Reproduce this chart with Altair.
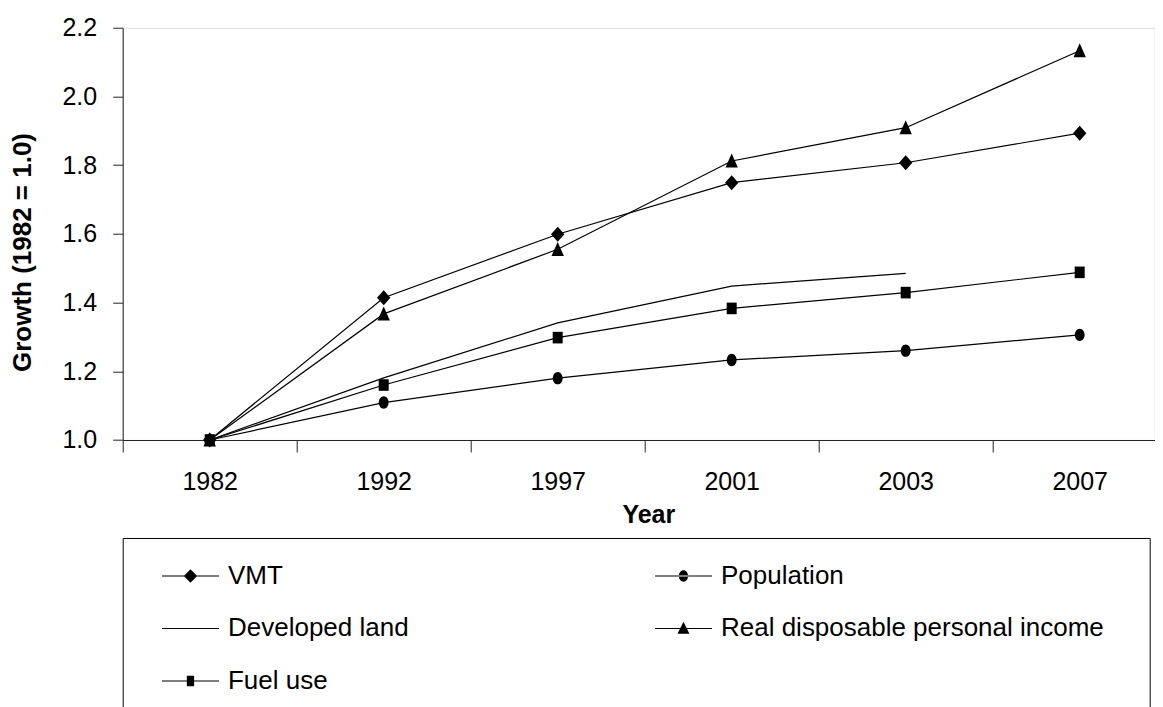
import altair as alt
import pandas as pd

# ---- data ----
years = ["1982", "1992", "1997", "2001", "2003", "2007"]
series_names = ["VMT", "Population", "Developed land",
                "Real disposable personal income", "Fuel use"]
vmt = [1.0, 1.414, 1.599, 1.749, 1.807, 1.893]
population = [1.0, 1.109, 1.180, 1.233, 1.260, 1.306]
developed_land = [1.0, 1.181, 1.341, 1.448, 1.485, None]
income = [1.0, 1.367, 1.555, 1.812, 1.909, 2.133]
fuel_use = [1.0, 1.160, 1.298, 1.383, 1.429, 1.488]
y_ticks = [1.0, 1.2, 1.4, 1.6, 1.8, 2.0, 2.2]

series_values = [vmt, population, developed_land, income, fuel_use]
rows = []
for name, vals in zip(series_names, series_values):
    for yr, v in zip(years, vals):
        if v is not None:
            rows.append({"Year": yr, "Series": name, "Growth": v})
df = pd.DataFrame(rows)

# marker shapes (plot)
marked_names = ["VMT", "Population", "Real disposable personal income", "Fuel use"]
marker_paths = [
    "M0,-0.75L0.67,0L0,0.75L-0.67,0Z",
    "M-0.49,0A0.49,0.62 0 1,0 0.49,0A0.49,0.62 0 1,0 -0.49,0Z",
    "M0,-0.74L0.62,0.66L-0.62,0.66Z",
    "M-0.5,-0.58L0.5,-0.58L0.5,0.58L-0.5,0.58Z",
]
# legend symbols: line (thin bar) with marker
LINE = "M0.1,-0.046L4.485,-0.046L4.485,0.046L0.1,0.046Z"
WIDE = "M36.2,0L36.2,0"   # zero-size point that widens the second legend column
legend_paths = [
    LINE + "M2.29,-0.515L2.805,0L2.29,0.515L1.775,0Z",
    LINE + "M1.936,0A0.354,0.44 0 1,0 2.644,0A0.354,0.44 0 1,0 1.936,0Z" + WIDE,
    LINE,
    LINE + "M2.29,-0.52L2.75,0.41L1.83,0.41Z",
    LINE + "M2.01,-0.41L2.57,-0.41L2.57,0.41L2.01,0.41Z",
]

FONT = "Liberation Sans"

x_enc = alt.X(
    "Year:O",
    sort=years,
    scale=alt.Scale(type="band", domain=years, range=[0, 1044],
                    paddingInner=0, paddingOuter=0),
    axis=alt.Axis(
        title="Year", labelAngle=0, tickBand="extent", tickSize=12,
        labelPadding=18, labelFontSize=25, titleFontSize=25,
        titleFontWeight="bold", titlePadding=8, titleX=525.6, grid=False,
        domainColor="#222", tickColor="#222", labelColor="black",
        titleColor="black", labelFont=FONT, titleFont=FONT,
    ),
)
y_enc = alt.Y(
    "Growth:Q",
    scale=alt.Scale(domain=[1.0, 2.2], nice=False, zero=False),
    axis=alt.Axis(
        values=y_ticks, format=".1f", title="Growth (1982 = 1.0)",
        tickSize=10, labelPadding=16, labelFontSize=25, titleFontSize=26,
        titleFontWeight="bold", titlePadding=26, titleY=224.3, grid=False,
        domainColor="#222", tickColor="#222", labelColor="black",
        titleColor="black", labelFont=FONT, titleFont=FONT,
    ),
)

lines = alt.Chart(df).mark_line(color="black", strokeWidth=1.2).encode(
    x=x_enc, y=y_enc, detail="Series:N"
)

points = (
    alt.Chart(df)
    .transform_filter(alt.datum.Series != "Developed land")
    .mark_point(filled=True, color="black", size=400, opacity=1)
    .encode(
        x=x_enc, y=y_enc,
        shape=alt.Shape("Series:N",
                        scale=alt.Scale(domain=marked_names, range=marker_paths),
                        legend=None),
    )
)

legend_layer = (
    alt.Chart(df)
    .transform_filter("false")
    .mark_point(filled=True, color="black", size=676, opacity=1)
    .encode(
        x=x_enc, y=y_enc,
        shape=alt.Shape(
            "Series:N",
            scale=alt.Scale(domain=series_names, range=legend_paths),
            legend=alt.Legend(
                title=None, orient="none", legendX=0, legendY=510.3,
                columns=2, direction="horizontal",
                symbolSize=676, symbolStrokeWidth=0,
                symbolFillColor="black", symbolOpacity=1,
                labelFontSize=26, labelFont=FONT, labelColor="black",
                labelLimit=1000, labelOffset=54.3,
                rowPadding=26.5, columnPadding=232, padding=25,
                strokeColor="black",
            ),
        ),
    )
)

chart = (
    alt.layer(lines, points, legend_layer)
    .resolve_scale(shape="independent")
    .properties(width=1032, height=412.3,
                autosize=alt.AutoSizeParams(type="none"),
                padding={"left": 114.7, "top": 19.7, "right": 0, "bottom": 285})
    .configure_view(stroke=None)
    .configure_legend(strokeWidth=2)
    .configure(font=FONT)
)

chart.save("out.html", embed_options={"renderer": "svg", "actions": False})
